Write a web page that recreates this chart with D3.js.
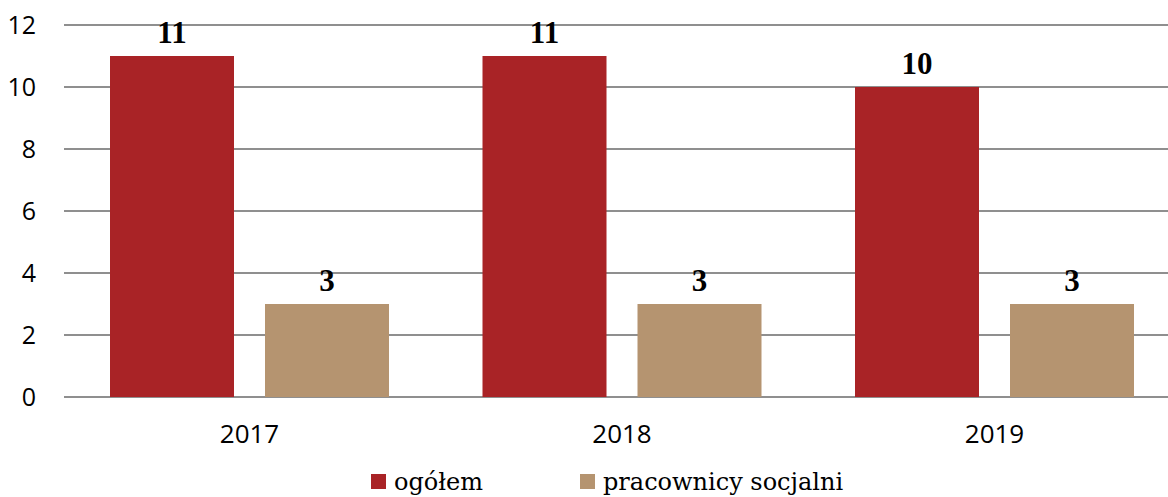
<!DOCTYPE html>
<html>
<head>
<meta charset="utf-8">
<script src="https://cdn.jsdelivr.net/npm/d3@7"></script>
<style>
  body { margin: 0; background: #fff; overflow: hidden; }
  svg { display: block; }
</style>
</head>
<body>
<div id="container"></div>
<script>
const years = ["2017", "2018", "2019"];
const seriesNames = ["ogółem", "pracownicy socjalni"];
const ogolem = [11, 11, 10];
const pracownicy = [3, 3, 3];
const yTicks = [0, 2, 4, 6, 8, 10, 12];
const colors = ["#A92326", "#B59470"];

const w = 1168, h = 497;
const svg = d3.select("#container").append("svg").attr("width", w).attr("height", h);

const rows = years.map((y, i) => ({ year: y, values: [ogolem[i], pracownicy[i]] }));

const x0 = d3.scaleBand().domain(years).range([63.25, 1180.75]).paddingInner(0).paddingOuter(0);
const inner = 46.75 / x0.step();
const x1 = d3.scaleBand().domain([0, 1])
  .range([x0.step() * inner, x0.step() * (1 - inner)])
  .paddingInner(0.2).paddingOuter(0);
const yScale = d3.scaleLinear().domain([0, 12]).range([397, 25]);

// gridlines
svg.append("g").selectAll("line")
  .data(yTicks)
  .enter().append("line")
    .attr("x1", 64).attr("x2", 1180)
    .attr("y1", d => yScale(d)).attr("y2", d => yScale(d))
    .attr("stroke", "#8f8f8f").attr("stroke-width", 2);

// y axis labels
const yAxis = d3.axisLeft(yScale).tickValues(yTicks).tickSize(0).tickPadding(0);
const yAxisGroup = svg.append("g").attr("transform", "translate(36,0)").call(yAxis);
yAxisGroup.select(".domain").remove();
yAxisGroup.selectAll("text")
  .attr("font-family", "'Open Sans', sans-serif").attr("font-size", 25)
  .attr("fill", "#000").attr("dy", "0.35em");

// x axis labels
const xAxis = d3.axisBottom(x0).tickSize(0).tickPadding(0);
const xAxisGroup = svg.append("g").attr("transform", "translate(0,397)").call(xAxis);
xAxisGroup.select(".domain").remove();
xAxisGroup.selectAll("text")
  .attr("font-family", "'Open Sans', sans-serif").attr("font-size", 26)
  .attr("fill", "#000").attr("dy", 0).attr("y", 46);

// bars
const groups = svg.append("g").selectAll("g")
  .data(rows)
  .enter().append("g")
    .attr("transform", d => `translate(${x0(d.year)},0)`);

groups.selectAll("rect")
  .data(d => d.values)
  .enter().append("rect")
    .attr("x", (d, i) => x1(i))
    .attr("y", d => yScale(d))
    .attr("width", x1.bandwidth())
    .attr("height", d => yScale(0) - yScale(d))
    .attr("fill", (d, i) => colors[i]);

groups.selectAll("text.val")
  .data(d => d.values)
  .enter().append("text")
    .attr("class", "val")
    .attr("x", (d, i) => x1(i) + x1.bandwidth() / 2)
    .attr("y", d => yScale(d) - 13)
    .attr("text-anchor", "middle")
    .attr("font-family", "'Liberation Serif', serif")
    .attr("font-weight", "bold")
    .attr("font-size", 31)
    .text(d => d);

// legend
const legendX = [371, 580];
const legend = svg.append("g").selectAll("g")
  .data(seriesNames)
  .enter().append("g")
    .attr("transform", (d, i) => `translate(${legendX[i]},474)`);
legend.append("rect").attr("width", 15).attr("height", 15).attr("fill", (d, i) => colors[i]);
legend.append("text")
  .attr("x", 23).attr("y", 16)
  .attr("font-family", "'DejaVu Serif', serif").attr("font-size", 24)
  .text(d => d);
</script>
</body>
</html>
